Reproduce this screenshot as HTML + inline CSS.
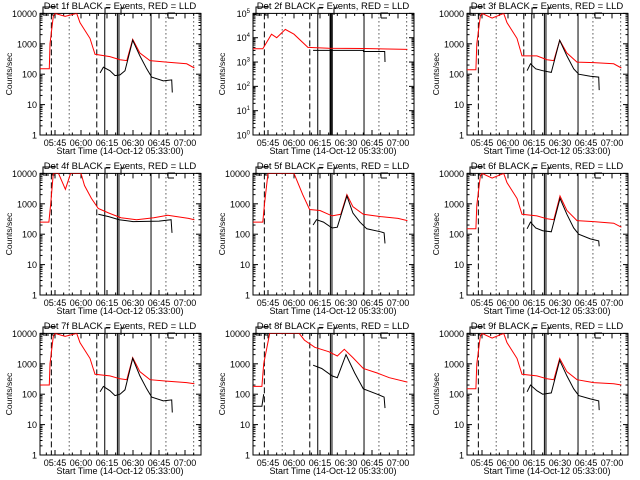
<!DOCTYPE html>
<html><head><meta charset="utf-8">
<style>
html,body{margin:0;padding:0;background:#fff;}
svg{display:block;}
text{font-family:"Liberation Sans",sans-serif;fill:#000;}
</style></head>
<body>
<svg id="chart" width="640" height="480" viewBox="0 0 640 480" xmlns="http://www.w3.org/2000/svg">
<rect x="0" y="0" width="640" height="480" fill="#fff"/>
</svg>
<script>
// time in minutes after 05:30, values in counts/sec
const detNames = ["1f","2f","3f","4f","5f","6f","7f","8f","9f"];
const xTickLabels = ["05:45","06:00","06:15","06:30","06:45","07:00"];
const xTickTimes = [15,30,45,60,75,90];
const redT1 = [6.3,11.7,12.1,14,15,20.8,27.5,29.4,35.2,38.1,46.7,52.5,56.4,59.8,64,69.8,79.4,91,95.4];
const redV1 = [150,150,1000,8000,10000,8000,10000,5000,1500,450,380,300,280,1400,500,280,250,220,160];
const blkT1 = [41,42.9,46.7,49.6,52.5,55.4,59.8,64,67.9,70.8,77.5,82.3,82.7];
const blkV1 = [110,170,130,90,95,130,1300,400,150,80,60,65,25];
const redT2 = [6.3,12,17,20,25,30,38,50,70,95.4];
const redV2 = [3500,3500,14000,10000,22000,14000,4000,3700,3600,3300];
const blkT2 = [41,70,70.1,82.3,82.5];
const blkV2 = [3000,3000,2700,2700,1000];
const redT3 = [6.3,11.5,12,14,15,20.8,27.5,29.4,35.2,38.1,46.7,52.5,56.4,59.8,64,69.8,79.4,91,95.4];
const redV3 = [140,140,1000,8000,10000,7000,10000,5000,1500,400,400,300,280,1300,500,250,240,220,160];
const blkT3 = [41,43,46,50,55,59.8,64,67.9,70.8,77.5,82.3,82.6];
const blkV3 = [130,220,150,130,115,1300,400,150,100,85,80,30];
const redT4 = [6.3,11.5,12.5,14,17,21,24,30,32,36,40,46,53,62,72,80,92,95.4];
const redV4 = [250,250,1000,10000,10000,3000,10000,10000,4000,1500,700,500,350,300,350,420,330,300];
const blkT4 = [40,46,52,60,75,82,82.5];
const blkV4 = [450,380,300,260,270,300,110];
const redT5 = [6.3,12,13,15,30,35,39,45,52,57,60.5,64,70,80,90,95.4];
const redV5 = [250,250,1000,10000,10000,2000,650,600,400,450,2000,800,450,380,330,280];
const blkT5 = [41,43,47,52,55,60.5,64,68,72,80,82,82.5];
const blkV5 = [200,300,250,160,170,1800,500,250,150,120,110,50];
const redT6 = [6.3,11.5,12,14,15,20.8,27.5,29.4,35.2,38.1,46.7,52.5,56.4,60,64,69.8,79.4,91,95.4];
const redV6 = [150,150,900,8000,10000,7000,10000,5000,1500,450,400,320,300,1800,600,280,260,230,170];
const blkT6 = [41,43,46,50,55,60,64,67.9,70.8,77.5,82.3,82.6];
const blkV6 = [150,250,160,130,120,1500,450,160,100,70,60,40];
const redT7 = [6.3,11.7,12.1,14,15,20.8,27.5,29.4,35.2,38.1,46.7,52.5,56.4,59.8,64,69.8,79.4,91,95.4];
const redV7 = [200,200,1000,8000,10000,8000,10000,5000,1500,450,400,320,300,1600,550,300,270,240,220];
const blkT7 = [41,42.9,46.7,49.6,52.5,55.4,59.8,64,67.9,70.8,77.5,82.3,82.7];
const blkV7 = [120,180,130,90,100,140,1500,400,150,80,60,65,25];
const redT8 = [6.3,11.5,12.5,16,33,36,42,50,55,59,64,70,78,85,95.4];
const redV8 = [180,180,1000,10000,10000,6000,3500,2500,1800,3000,1600,700,500,350,250];
const blkT8 = [6.3,11.5,12.5,null,41,46,52,55,60,65,70,78,82,82.5];
const blkV8 = [40,40,100,null,900,700,400,350,2000,500,150,100,80,35];
const redT9 = [6.3,11.5,12,14,15,20.8,27.5,29.4,35.2,38.1,46.7,52.5,56.4,59.8,64,69.8,79.4,91,95.4];
const redV9 = [150,150,1000,8000,10000,7000,10000,5000,1500,450,400,320,300,1500,550,300,240,220,200];
const blkT9 = [41,43,46.7,50,55,59.8,64,67.9,70.8,77.5,82.3,82.6];
const blkV9 = [120,200,130,100,110,1300,400,150,90,70,60,30];
const redTs=[redT1,redT2,redT3,redT4,redT5,redT6,redT7,redT8,redT9];
const redVs=[redV1,redV2,redV3,redV4,redV5,redV6,redV7,redV8,redV9];
const blkTs=[blkT1,blkT2,blkT3,blkT4,blkT5,blkT6,blkT7,blkT8,blkT9];
const blkVs=[blkV1,blkV2,blkV3,blkV4,blkV5,blkV6,blkV7,blkV8,blkV9];
const vlineTimes=[12.9,23.2,39.1,43.7,51.0,51.9,70.4,79,95];
const vlineStyles=["dash","dot","dash","solid","solid","solid","solid","dot","dot"];

const NS="http://www.w3.org/2000/svg";
const svg=document.getElementById('chart');
const L=40,R=201,T=13.4,B=135;
function mk(tag,attrs,parent){const e=document.createElementNS(NS,tag);for(const k in attrs)e.setAttribute(k,attrs[k]);parent.appendChild(e);return e;}
function xS(t){return 29+t*1.7333;}

for(let p=0;p<9;p++){
  const ox=[0,213,427][p%3], oy=[0,160,320][Math.floor(p/3)];
  const g=mk('g',{transform:`translate(${ox},${oy})`},svg);
  
  
  const decMin=0, decMax=(p===1)?5:4;
  const yS=v=>B-(Math.log10(v)-decMin)/(decMax-decMin)*(B-T);
  // clip
  const cid='clip'+p;
  const cp=mk('clipPath',{id:cid},g); mk('rect',{x:L,y:T,width:R-L,height:B-T},cp);
  // frame
  const fr=mk('rect',{x:L,y:T,width:R-L,height:B-T,fill:'none',stroke:'#000','stroke-width':1},g);
  
  
  // title
  const tt=mk('text',{x:120,y:9,'text-anchor':'middle','font-size':9.5},g);
  tt.textContent='Det '+detNames[p]+' BLACK = Events, RED = LLD';
  
  
  // y ticks
  for(let d=decMin;d<=decMax;d++){
    const y=yS(Math.pow(10,d));
    mk('line',{x1:L,y1:y,x2:L+5,y2:y,stroke:'#000'},g);
    mk('line',{x1:R,y1:y,x2:R-5,y2:y,stroke:'#000'},g);
    const lb=mk('text',{x:37,y:y+3.5,'text-anchor':'end','font-size':9},g);
    if(p===1){lb.textContent='10';const s=mk('tspan',{dy:-4,'font-size':6},lb);s.textContent=String(d);}
    else lb.textContent=String(Math.pow(10,d));
    
    
    if(d<decMax) for(let m=2;m<10;m++){const ym=yS(m*Math.pow(10,d));
      mk('line',{x1:L,y1:ym,x2:L+2.5,y2:ym,stroke:'#000'},g);
      mk('line',{x1:R,y1:ym,x2:R-2.5,y2:ym,stroke:'#000'},g);}
  }
  // x ticks
  xTickTimes.forEach((t,i)=>{const x=xS(t);
    mk('line',{x1:x,y1:B,x2:x,y2:B-5,stroke:'#000'},g);
    mk('line',{x1:x,y1:T,x2:x,y2:T+5,stroke:'#000'},g);
    const lb=mk('text',{x:x,y:146,'text-anchor':'middle','font-size':9},g);
    lb.textContent=xTickLabels[i];
    
    
  });
  for(let t=10;t<100;t+=5){if(t%15===0)continue;const x=xS(t);if(x<L||x>R)continue;
    mk('line',{x1:x,y1:B,x2:x,y2:B-2.5,stroke:'#000'},g);mk('line',{x1:x,y1:T,x2:x,y2:T+2.5,stroke:'#000'},g);}
  const xt=mk('text',{x:120,y:154,'text-anchor':'middle','font-size':9},g);
  xt.textContent='Start Time (14-Oct-12 05:33:00)';
  
  
  const yt=mk('text',{x:12,y:74,'text-anchor':'middle','font-size':8.5,transform:'rotate(-90 12 74)'},g);
  yt.textContent='Counts/sec';
  
  
  // vertical markers
  vlineTimes.forEach((t,i)=>{const x=xS(t);const st=vlineStyles[i];
    const a={x1:x,y1:T,x2:x,y2:B,stroke:'#000','stroke-width':(p===1&&i>=4&&i<=5)?1.6:1};
    if(st==='dash')a['stroke-dasharray']='6,3';
    if(st==='dot')a['stroke-dasharray']='1,3';
    const ln=mk('line',a,g);
    
    
  });
  // top bracket marks
  mk('path',{d:'M43,15 V7 H56 M43,15 H49 M55,15 H52 V13',fill:'none',stroke:'#000'},g);
  mk('path',{d:'M105,15 V8 H110 M121,15 V8 H125 M168,18 V13 H175 M168,18 H174',fill:'none',stroke:'#000'},g);
  // series
  function path(ts,vs){let d='',pen=false;for(let i=0;i<ts.length;i++){
      if(ts[i]===null){pen=false;continue;}
      d+=(pen?'L':'M')+xS(ts[i]).toFixed(1)+','+yS(vs[i]).toFixed(1);pen=true;}return d;}
  const rs=mk('path',{d:path(redTs[p],redVs[p]),fill:'none',stroke:'#ff0000','stroke-width':1,'clip-path':`url(#${cid})`},g);
  
  
  const bs=mk('path',{d:path(blkTs[p],blkVs[p]),fill:'none',stroke:'#000','stroke-width':1,'clip-path':`url(#${cid})`},g);
  
  
}
</script>
</body></html>
